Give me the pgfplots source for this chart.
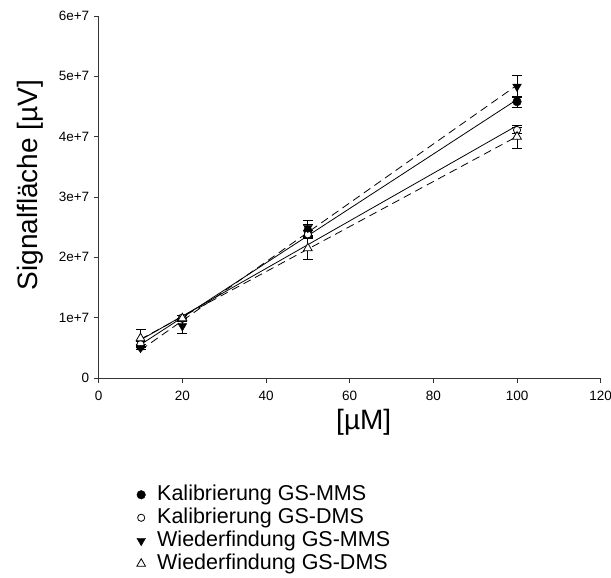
\documentclass[border=0pt]{standalone}
\usepackage{pgfplots}
\pgfplotsset{compat=1.18}
\usepackage{fontspec}
\setmainfont{Liberation Sans}
\begin{document}
\begin{tikzpicture}[x=1pt,y=1pt]
\useasboundingbox (-98.7pt,-200pt) rectangle (512.3pt,378pt);
\begin{axis}[
  at={(0pt,0pt)}, anchor=south west,
  scale only axis, width=502pt, height=362pt,
  xmin=0, xmax=120, ymin=0, ymax=6e7,
  axis lines*=left,
  axis line style={line width=0.9pt, color=black!80},
  tick style={line width=0.9pt, color=black!80},
  tick align=outside, major tick length=5pt,
  xtick={0,20,40,60,80,100,120},
  xticklabels={0,20,40,60,80,100,120},
  ytick={0,1e7,2e7,3e7,4e7,5e7,6e7},
  yticklabels={0,1e+7,2e+7,3e+7,4e+7,5e+7,6e+7},
  scaled y ticks=false,
  ticklabel style={font=\fontsize{13.5}{16}\selectfont},
  xticklabel style={yshift=-5pt},
  yticklabel style={xshift=-1pt},
  xlabel={[µM]}, ylabel={Signalfläche [µV]},
  every axis x label/.style={at={(axis description cs:0.528,-0.122)}, anchor=center, font=\fontsize{28}{32}\selectfont},
  every axis y label/.style={at={(axis description cs:-0.137,0.533)}, rotate=90, anchor=center, font=\fontsize{28}{32}\selectfont},
  legend image code/.code={\path[#1] plot coordinates {(0pt,0pt)}; \path[draw=none,fill=none] (-5pt,-4pt) rectangle (5pt,4pt);},
  legend style={draw=none, fill=none, at={(axis description cs:0.0743,-0.293)}, anchor=north west,
    font=\fontsize{21.5}{23}\selectfont, row sep=2pt, column sep=11pt, inner sep=0pt,
    nodes={inner sep=0pt, text height=16pt, text depth=5pt}, cells={anchor=west}},
  legend cell align=left,
  clip=false,
]
% regression lines
\addplot[forget plot, black, line width=0.8pt] coordinates {(10,5.53e6) (100,46.15e6)};
\addplot[forget plot, black, line width=0.8pt] coordinates {(10,6.31e6) (100,41.83e6)};
\addplot[forget plot, black, line width=0.8pt, dash pattern=on 8pt off 5pt] coordinates {(10,4.62e6) (100,48.54e6)};
\addplot[forget plot, black, line width=0.8pt, dash pattern=on 8pt off 5pt] coordinates {(10,6.43e6) (100,40.03e6)};
% Kalibrierung GS-MMS
\addplot[only marks, mark=*, mark size=4.3pt, black,
  error bars/.cd, y dir=both, y explicit, error bar style={line width=0.8pt},
  error mark options={rotate=90, mark size=5pt, line width=0.8pt}]
  coordinates {(10,5.2e6) +- (0,0.4e6) (20,9.9e6) +- (0,0.4e6) (50,24.4e6) +- (0,1.1e6) (100,45.8e6) +- (0,0.9e6)};
\addlegendentry{Kalibrierung GS-MMS}
% Kalibrierung GS-DMS
\addplot[only marks, mark=*, mark size=3.6pt, black, mark options={fill=white, line width=0.8pt},
  error bars/.cd, y dir=both, y explicit, error bar style={line width=0.8pt},
  error mark options={rotate=90, mark size=5pt, line width=0.8pt}]
  coordinates {(10,5.6e6) +- (0,0.4e6) (20,10.0e6) +- (0,0.4e6) (50,23.8e6) +- (0,0.6e6) (100,41.1e6) +- (0,0.5e6)};
\addlegendentry{Kalibrierung GS-DMS}
% Wiederfindung GS-MMS
\addplot[only marks, mark=triangle*, mark size=5pt, black, mark options={rotate=180},
  error bars/.cd, y dir=both, y explicit, error bar style={line width=0.8pt},
  error mark options={rotate=90, mark size=5pt, line width=0.8pt}]
  coordinates {(10,5.0e6) +- (0,0.3e6) (20,8.6e6) +- (0,1.2e6) (50,24.9e6) +- (0,1.2e6) (100,48.3e6) +- (0,1.8e6)};
\addlegendentry{Wiederfindung GS-MMS}
% Wiederfindung GS-DMS
\addplot[only marks, mark=triangle*, mark size=5pt, black, mark options={fill=white, line width=0.8pt},
  error bars/.cd, y dir=both, y explicit, error bar style={line width=0.8pt},
  error mark options={rotate=90, mark size=5pt, line width=0.8pt}]
  coordinates {(10,6.6e6) +- (0,1.5e6) (20,9.9e6) +- (0,0.5e6) (50,21.5e6) +- (0,1.9e6) (100,40.0e6) +- (0,1.9e6)};
\addlegendentry{Wiederfindung GS-DMS}
\end{axis}
\end{tikzpicture}
\end{document}
